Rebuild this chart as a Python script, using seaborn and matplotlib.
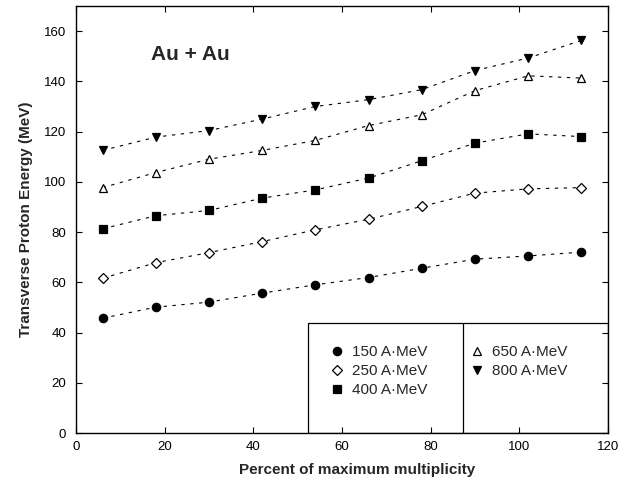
import matplotlib
matplotlib.use("Agg")
import matplotlib.pyplot as plt
from matplotlib.patches import Rectangle
from matplotlib.lines import Line2D
import seaborn as sns
import pandas as pd

# Centrality bins (percent of maximum multiplicity)
multiplicity = [6, 18, 30, 42, 54, 66, 78, 90, 102, 114]

# Mean transverse proton energy (MeV) per beam energy
e150 = [45.7, 50.1, 52.1, 55.7, 59.0, 61.9, 65.6, 69.2, 70.5, 72.0]
e250 = [61.6, 67.8, 71.8, 76.2, 80.9, 85.1, 90.2, 95.5, 97.2, 97.7]
e400 = [81.3, 86.5, 88.6, 93.5, 96.8, 101.5, 108.4, 115.4, 119.1, 118.0]
e650 = [97.7, 103.7, 109.0, 112.5, 116.5, 122.4, 126.7, 136.3, 142.2, 141.3]
e800 = [112.5, 117.8, 120.4, 125.0, 130.0, 132.7, 136.7, 144.3, 149.3, 156.3]

beam_labels = ["150 A\u00b7MeV", "250 A\u00b7MeV", "400 A\u00b7MeV",
               "650 A\u00b7MeV", "800 A\u00b7MeV"]
series = [e150, e250, e400, e650, e800]

xticks = [0, 20, 40, 60, 80, 100, 120]
yticks = [0, 20, 40, 60, 80, 100, 120, 140, 160]

df = pd.concat(
    [pd.DataFrame({"mult": multiplicity, "energy": vals, "beam": lab})
     for lab, vals in zip(beam_labels, series)],
    ignore_index=True,
)

sns.set_theme(style="white")
plt.rcParams["font.family"] = ["Liberation Sans", "DejaVu Sans"]

fig = plt.figure(figsize=(6.28, 4.82), dpi=100)
ax = fig.add_axes([76 / 628, 49 / 482, 532 / 628, 427 / 482])

marker_styles = {
    beam_labels[0]: dict(marker="o", markersize=6.0, markerfacecolor="black"),
    beam_labels[1]: dict(marker="D", markersize=5.2, markerfacecolor="white"),
    beam_labels[2]: dict(marker="s", markersize=5.8, markerfacecolor="black"),
    beam_labels[3]: dict(marker="^", markersize=5.5, markerfacecolor="white"),
    beam_labels[4]: dict(marker="v", markersize=6.0, markerfacecolor="black"),
}

for lab in beam_labels:
    sub = df[df["beam"] == lab]
    sns.lineplot(
        data=sub, x="mult", y="energy", ax=ax, color="black",
        linestyle=(0, (3, 5)), linewidth=0.8, errorbar=None,
        markeredgecolor="black", markeredgewidth=0.9, legend=False,
        **marker_styles[lab],
    )

ax.set_xlim(0, 120)
ax.set_ylim(0, 170)
ax.set_xticks(xticks)
ax.set_yticks(yticks)

for sp in ax.spines.values():
    sp.set_color("black")
    sp.set_linewidth(1.0)

ax.tick_params(axis="both", which="major", direction="in", length=4,
               width=0.8, colors="black", labelsize=9.5,
               top=True, right=True, bottom=True, left=True)
ax.tick_params(axis="y", pad=7)
ax.tick_params(axis="x", pad=6)

ax.set_xlabel("Percent of maximum multiplicity", fontsize=11,
              fontweight="bold", labelpad=10)
ax.set_ylabel("Transverse Proton Energy (MeV)", fontsize=11,
              fontweight="bold", labelpad=8)
ax.xaxis.set_label_coords(0.528, -0.07)

ax.text(17, 150.5, "Au + Au", fontsize=15, fontweight="bold",
        ha="left", va="center")

# Legend box with divider, anchored to the lower right corner
box_left, box_top, divider = 0.436, 0.258, 0.727
ax.add_patch(Rectangle((box_left, 0), 1 - box_left, box_top,
                       transform=ax.transAxes, fill=False,
                       edgecolor="black", linewidth=0.9, zorder=3))
ax.add_line(Line2D([divider, divider], [0, box_top], transform=ax.transAxes,
                   color="black", linewidth=0.9, zorder=3))

# Marker-only legend entries
handles = [
    Line2D([], [], linestyle="none", color="black", markeredgecolor="black",
           markeredgewidth=0.9, **marker_styles[lab])
    for lab in beam_labels
]

leg_kw = dict(frameon=False, fontsize=11, handlelength=1.0,
              handletextpad=0.5, labelspacing=0.32, borderaxespad=0,
              loc="upper left")
leg1 = ax.legend(handles[:3], beam_labels[:3], bbox_to_anchor=(0.464, 0.22),
                 **leg_kw)
ax.add_artist(leg1)
ax.legend(handles[3:], beam_labels[3:], bbox_to_anchor=(0.727, 0.22), **leg_kw)

fig.savefig("out.png", dpi=100)
